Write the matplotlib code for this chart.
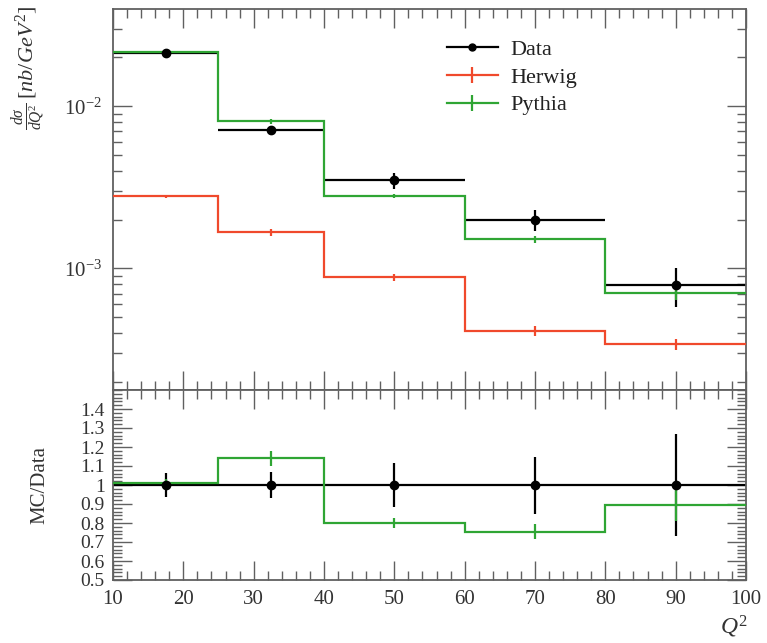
import matplotlib
matplotlib.use("Agg")
import matplotlib.pyplot as plt
from matplotlib.lines import Line2D
from matplotlib.ticker import MultipleLocator, LogLocator, FixedLocator, NullFormatter
import numpy as np

# ---- values ----
bin_edges = [10, 25, 40, 60, 80, 100]
data_vals = [0.0213, 0.0071, 0.0035, 0.0020, 0.00079]
data_err = [0.0014, 0.00047, 0.0004, 0.0003, 0.00021]
herwig_vals = [0.00278, 0.00167, 0.00088, 0.000412, 0.00034]
herwig_relerr = [0.02, 0.045, 0.05, 0.07, 0.08]
pythia_vals = [0.0215, 0.0081, 0.0028, 0.00151, 0.000705]
pythia_relerr = [0.02, 0.035, 0.035, 0.055, 0.09]
x_ticks = [10, 20, 30, 40, 50, 60, 70, 80, 90, 100]
ratio_ticks = [0.5, 0.6, 0.7, 0.8, 0.9, 1.0, 1.1, 1.2, 1.3, 1.4]
ratio_ticklabels = ["0.5", "0.6", "0.7", "0.8", "0.9", "1", "1.1", "1.2", "1.3", "1.4"]

plt.rcParams["font.family"] = ["Liberation Serif", "DejaVu Serif"]
plt.rcParams["mathtext.fontset"] = "custom"
plt.rcParams["mathtext.rm"] = "Liberation Serif"
plt.rcParams["mathtext.it"] = "Liberation Serif:italic"
plt.rcParams["mathtext.bf"] = "Liberation Serif:bold"

RED = "#f0492c"
GREEN = "#2fa534"
FRAME = "#606060"

edges = np.array(bin_edges, dtype=float)
centers = 0.5 * (edges[:-1] + edges[1:])
halfw = 0.5 * (edges[1:] - edges[:-1])
dv = np.array(data_vals)
de = np.array(data_err)
hv = np.array(herwig_vals)
he = hv * np.array(herwig_relerr)
pv = np.array(pythia_vals)
pe = pv * np.array(pythia_relerr)

fig = plt.figure(figsize=(7.67, 6.43), dpi=100)
W, H = 767.0, 643.0
x0, x1 = 113 / W, 746 / W
ytop, ymid, ybot = 1 - 9 / H, 1 - 390 / H, 1 - 580 / H
ax = fig.add_axes([x0, ymid, x1 - x0, ytop - ymid])
axr = fig.add_axes([x0, ybot, x1 - x0, ymid - ybot], sharex=ax)


def step(axis, vals, color, err):
    y = np.append(vals, vals[-1])
    axis.step(edges, y, where="post", color=color, lw=1.6, zorder=3, solid_joinstyle="miter")
    axis.errorbar(centers, vals, yerr=err, fmt="none", ecolor=color, elinewidth=1.6,
                  capsize=0, zorder=3)


# ---- main panel ----
ax.errorbar(centers, dv, xerr=halfw, yerr=de, fmt="none", ecolor="black",
            elinewidth=1.6, capsize=0, zorder=2)
step(ax, hv, RED, he)
step(ax, pv, GREEN, pe)
ax.plot(centers, dv, "o", color="black", ms=6, zorder=4)

ax.set_yscale("log")
ax.set_xlim(10, 100)
ax.set_ylim(1.78e-4, 0.0398)
ax.yaxis.set_major_locator(FixedLocator([1e-3, 1e-2]))
ax.yaxis.set_minor_locator(LogLocator(base=10, subs=np.arange(2, 10)))
ax.yaxis.set_minor_formatter(NullFormatter())
ax.set_yticklabels([r"$10^{-3}$", r"$10^{-2}$"])
plt.setp(ax.get_xticklabels(), visible=False)

# ---- ratio panel ----
axr.errorbar(centers, dv / dv, xerr=halfw, yerr=de / dv, fmt="none", ecolor="black",
             elinewidth=1.6, capsize=0, zorder=2)
step(axr, hv / dv, RED, he / dv)
step(axr, pv / dv, GREEN, pe / dv)
axr.plot(centers, dv / dv, "o", color="black", ms=6, zorder=4)
axr.set_ylim(0.5, 1.5)
axr.yaxis.set_major_locator(FixedLocator(ratio_ticks))
axr.set_yticklabels(ratio_ticklabels)
axr.yaxis.set_minor_locator(MultipleLocator(0.02))
axr.xaxis.set_major_locator(FixedLocator(x_ticks))
axr.set_xticklabels([str(t) for t in x_ticks])
axr.xaxis.set_minor_locator(MultipleLocator(2))

for a in (ax, axr):
    a.tick_params(which="both", direction="in", top=True, right=True, color=FRAME)
    a.tick_params(which="major", length=14, width=1.0)
    a.tick_params(which="minor", length=6.5, width=1.0)
    a.tick_params(axis="y", labelsize=15, pad=8, labelcolor="#333333")
    a.tick_params(axis="x", labelsize=15, pad=7, labelcolor="#333333")
    for s in a.spines.values():
        s.set_color(FRAME)
        s.set_linewidth(1.3)
axr.tick_params(axis="y", labelsize=14, pad=6)

# ---- labels ----
fig.text(29 / W, 1 - 6 / H, r"$\frac{d\sigma}{dQ^2}\,[nb/GeV^2]$", rotation=90,
         ha="center", va="top", fontsize=16, color="#333333")
fig.text(40 / W, 1 - 485 / H, "MC/Data", rotation=90, ha="center", va="center",
         fontsize=15, color="#333333")
fig.text(748 / W, 1 - 627 / H, r"$Q^2$", ha="right", va="center", fontsize=17,
         color="#333333")

handles = [
    Line2D([], [], color="black", lw=1.6, marker="o", ms=5),
    Line2D([], [], color=RED, lw=1.6, marker="|", ms=12, mew=1.6),
    Line2D([], [], color=GREEN, lw=1.6, marker="|", ms=12, mew=1.6),
]
leg = ax.legend(handles, ["Data", "Herwig", "Pythia"], loc="upper left",
                bbox_to_anchor=(0.51, 0.95), frameon=False, fontsize=16,
                handlelength=2.3, handletextpad=0.55, labelspacing=0.33,
                borderpad=0, labelcolor="#222222")

fig.savefig("out.png", dpi=100)
